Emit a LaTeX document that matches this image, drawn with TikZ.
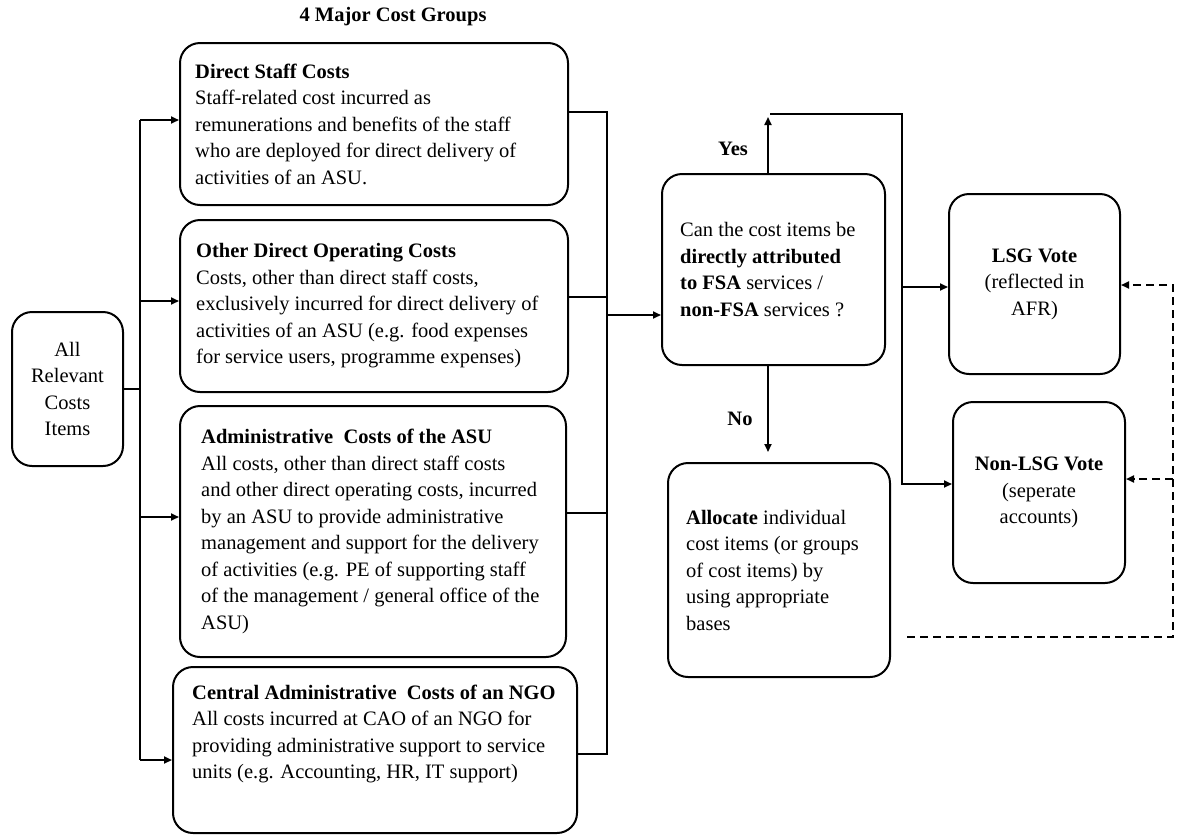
\documentclass[tikz,border=0pt]{standalone}
\usepackage{fontspec}
\setmainfont{Liberation Serif}[Ligatures=TeX]
\usetikzlibrary{arrows.meta}
\begin{document}
\begin{tikzpicture}[x=1pt,y=-1pt,
  box/.style={draw, line width=2pt, rounded corners=20pt, inner sep=0pt},
  conn/.style={line width=1.8pt},
  arr/.style={conn, -{Triangle[length=8pt,width=7pt]}},
  dsh/.style={arr, dash pattern=on 8pt off 5pt},
  txt/.style={inner sep=0pt, align=left, font=\fontsize{20.5}{26.5}\selectfont},
  btxt/.style={txt, font=\fontsize{20.5}{26.5}\selectfont\bfseries},
  ctxt/.style={txt, align=center}]
\useasboundingbox (0,0) rectangle (1182,836);
\fill[white] (0,0) rectangle (1182,836);

% title
\node[btxt] (title) at (393,17) {4 Major Cost Groups};

% boxes
\node[box, minimum width=111pt, minimum height=154pt] (all) at (67.5,389) {};
\node[box, minimum width=388pt, minimum height=162pt] (b1) at (374,124) {};
\node[box, minimum width=388pt, minimum height=172pt] (b2) at (374,306) {};
\node[box, minimum width=386pt, minimum height=251pt] (b3) at (373,531.5) {};
\node[box, minimum width=404pt, minimum height=166pt] (b4) at (375,750) {};
\node[box, minimum width=223pt, minimum height=191pt] (dec) at (773.5,269.5) {};
\node[box, minimum width=222pt, minimum height=214pt] (alloc) at (779,570) {};
\node[box, minimum width=171pt, minimum height=180pt] (lsg) at (1034.5,284) {};
\node[box, minimum width=172pt, minimum height=181pt] (nlsg) at (1039,492.5) {};

% texts
\node[ctxt] (allt) at (all.center) {All\\Relevant\\Costs\\Items};
\node[txt, anchor=west] (b1t) at ([xshift=16pt]b1.west) {\textbf{Direct Staff Costs}\\Staff-related cost incurred as\\remunerations and benefits of the staff\\who are deployed for direct delivery of\\activities of an ASU.};
\node[txt, anchor=west] (b2t) at ([xshift=17pt]b2.west) {\textbf{Other Direct Operating Costs}\\Costs, other than direct staff costs,\\exclusively incurred for direct delivery of\\activities of an ASU (e.g. food expenses\\for service users, programme expenses)};
\node[txt, anchor=west] (b3t) at ([xshift=22pt]b3.west) {\textbf{Administrative\ \ Costs of the ASU}\\All costs, other than direct staff costs\\and other direct operating costs, incurred\\by an ASU to provide administrative\\management and support for the delivery\\of activities (e.g. PE of supporting staff\\of the management / general office of the\\ASU)};
\node[txt, anchor=west] (b4t) at ([xshift=20pt,yshift=16pt]b4.west) {\textbf{Central Administrative\ \ Costs of an NGO}\\All costs incurred at CAO of an NGO for\\providing administrative support to service\\units (e.g. Accounting, HR, IT support)};
\node[txt, anchor=west] (dect) at ([xshift=19pt]dec.west) {Can the cost items be\\\textbf{directly attributed}\\\textbf{to FSA} services /\\\textbf{non-FSA} services ?};
\node[txt, anchor=west] (allot) at ([xshift=19pt]alloc.west) {\textbf{Allocate} individual\\cost items (or groups\\of cost items) by\\using appropriate\\bases};
\node[ctxt] (lsgt) at (lsg.center) {\textbf{LSG Vote}\\(reflected in\\AFR)};
\node[ctxt] (nlsgt) at (nlsg.center) {\textbf{Non-LSG Vote}\\(seperate\\accounts)};

% left trunk
\coordinate (tl) at (140,120);
\coordinate (a2) at (140,301);
\coordinate (a3) at (140,517);
\coordinate (tb) at (140,760);
\draw[conn] (tl) -- (tb);
\draw[conn] (all.east) -- (all.east -| tl);
\draw[arr] (tl) -- (tl -| b1.west);
\draw[arr] (a2) -- (a2 -| b2.west);
\draw[arr] (a3) -- (a3 -| b3.west);
\draw[arr] (tb) -- (tb -| b4.west);

% right bus
\coordinate (r1) at (607,112);
\coordinate (r2) at (607,297);
\coordinate (rd) at (607,315);
\coordinate (r3) at (607,513);
\coordinate (r4) at (607,754);
\draw[conn] (b1.east |- r1) -- (r1) -- (r4) -- (b4.east |- r4);
\draw[conn] (b2.east |- r2) -- (r2);
\draw[conn] (b3.east |- r3) -- (r3);
\draw[arr] (rd) -- (rd -| dec.west);

% yes / no
\coordinate (ytop) at (768,117);
\draw[arr] (ytop |- dec.north) -- (ytop);
\node[btxt] (yes) at (733,149) {Yes};
\coordinate (ntip) at (768,452);
\draw[arr] (ntip |- dec.south) -- (ntip);
\node[btxt] (no) at (740,419) {No};

% second bus
\coordinate (h1) at (770,114);
\coordinate (s1) at (902,114);
\coordinate (sm) at (902,287);
\coordinate (sb) at (902,484);
\draw[arr] (h1) -- (s1) -- (sb) -- (sb -| nlsg.west);
\draw[arr] (sm) -- (sm -| lsg.west);

% dashed feedback
\coordinate (d0) at (907,637);
\coordinate (d1) at (1173,637);
\coordinate (d2) at (1173,285);
\coordinate (d3) at (1173,479);
\draw[dsh] (d0) -- (d1) -- (d2) -- (d2 -| lsg.east);
\draw[dsh] (d3) -- (d3 -| nlsg.east);
\end{tikzpicture}
\end{document}
